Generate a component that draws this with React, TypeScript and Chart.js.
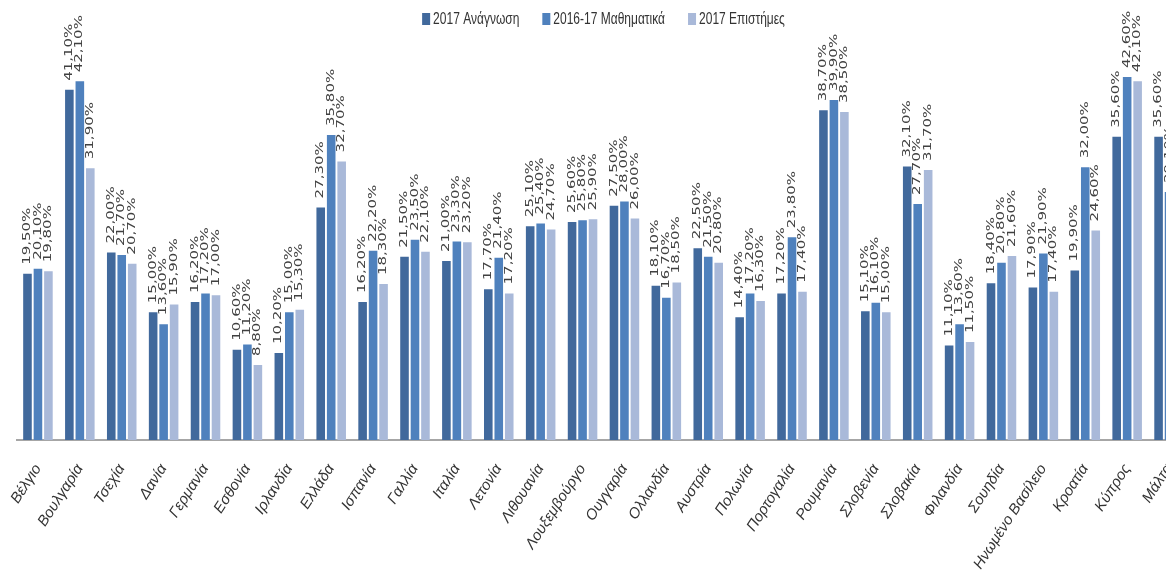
import React, { useEffect, useRef } from 'react';
import { Chart, registerables } from 'chart.js';

Chart.register(...registerables);

const categories = [
  'Βέλγιο', 'Βουλγαρία', 'Τσεχία', 'Δανία', 'Γερμανία', 'Εσθονία', 'Ιρλανδία',
  'Ελλάδα', 'Ισπανία', 'Γαλλία', 'Ιταλία', 'Λετονία', 'Λιθουανία', 'Λουξεμβούργο',
  'Ουγγαρία', 'Ολλανδία', 'Αυστρία', 'Πολωνία', 'Πορτογαλία', 'Ρουμανία',
  'Σλοβενία', 'Σλοβακία', 'Φιλανδία', 'Σουηδία', 'Ηνωμένο Βασίλειο', 'Κροατία',
  'Κύπρος', 'Μάλτα',
];

const reading = [
  19.5, 41.1, 22.0, 15.0, 16.2, 10.6, 10.2, 27.3, 16.2, 21.5, 21.0, 17.7, 25.1, 25.6,
  27.5, 18.1, 22.5, 14.4, 17.2, 38.7, 15.1, 32.1, 11.1, 18.4, 17.9, 19.9, 35.6, 35.6,
];

const maths = [
  20.1, 42.1, 21.7, 13.6, 17.2, 11.2, 15.0, 35.8, 22.2, 23.5, 23.3, 21.4, 25.4, 25.8,
  28.0, 16.7, 21.5, 17.2, 23.8, 39.9, 16.1, 27.7, 13.6, 20.8, 21.9, 32.0, 42.6, 29.1,
];

const science = [
  19.8, 31.9, 20.7, 15.9, 17.0, 8.8, 15.3, 32.7, 18.3, 22.1, 23.2, 17.2, 24.7, 25.9,
  26.0, 18.5, 20.8, 16.3, 17.4, 38.5, 15.0, 31.7, 11.5, 21.6, 17.4, 24.6, 42.1, 32.5,
];

const seriesNames = ['2017 Ανάγνωση', '2016-17 Μαθηματικά', '2017 Επιστήμες'];
const seriesColors = ['#41699C', '#4F81BD', '#A9B9D9'];

const formatValue = (v: number) => v.toFixed(2).replace('.', ',') + '%';

const valueLabelPlugin = {
  id: 'valueLabels',
  afterDatasetsDraw(chart: any) {
    const ctx = chart.ctx;
    ctx.save();
    ctx.font = '10px "DejaVu Sans", Verdana, sans-serif';
    ctx.fillStyle = '#404040';
    ctx.textAlign = 'left';
    ctx.textBaseline = 'middle';
    chart.data.datasets.forEach((ds: any, di: number) => {
      const meta = chart.getDatasetMeta(di);
      meta.data.forEach((bar: any, i: number) => {
        const v = ds.data[i];
        ctx.save();
        ctx.translate(bar.x, bar.y - 9);
        ctx.rotate(-Math.PI / 2);
        ctx.scale(1.5, 1);
        ctx.fillText(formatValue(v), 0, 0);
        ctx.restore();
      });
    });
    ctx.restore();
  },
};

const legendPlugin = {
  id: 'stretchedLegend',
  afterDraw(chart: any) {
    const ctx = chart.ctx;
    const area = chart.chartArea;
    ctx.save();
    ctx.font = '12px "Liberation Sans", Arial, sans-serif';
    const boxW = 8;
    const boxH = 12;
    const gapBox = 3;
    const gapItem = 23;
    const cy = 19;
    const stretch = 1.4;
    const items = chart.data.datasets.map((ds: any) => ({
      text: ds.label,
      color: ds.backgroundColor,
      w: ctx.measureText(ds.label).width,
    }));
    const total =
      items.reduce((s: number, it: any) => s + boxW + gapBox + it.w, 0) +
      gapItem * (items.length - 1);
    let x = (area.left + area.right) / 2 - total / 2;
    items.forEach((it: any) => {
      ctx.fillStyle = it.color;
      ctx.fillRect(x, cy - boxH / 2, boxW, boxH);
      x += boxW + gapBox;
      ctx.save();
      ctx.translate(x, cy);
      ctx.scale(1, stretch);
      ctx.fillStyle = '#333333';
      ctx.textBaseline = 'middle';
      ctx.textAlign = 'left';
      ctx.fillText(it.text, 0, 0);
      ctx.restore();
      x += it.w + gapItem;
    });
    ctx.restore();
  },
};

export default function App() {
  const canvasRef = useRef<HTMLCanvasElement | null>(null);

  useEffect(() => {
    if (!canvasRef.current) return;
    const seriesData = [reading, maths, science];
    const chart = new Chart(canvasRef.current, {
      type: 'bar',
      data: {
        labels: categories,
        datasets: seriesNames.map((name, i) => ({
          label: name,
          data: seriesData[i],
          backgroundColor: seriesColors[i],
          borderWidth: 0,
          categoryPercentage: 0.75,
          barPercentage: 0.82,
        })),
      },
      options: {
        responsive: true,
        maintainAspectRatio: false,
        animation: false,
        layout: { padding: { left: 17, right: 18, top: 14, bottom: 0 } },
        plugins: {
          legend: { display: false },
          tooltip: { enabled: false },
        },
        scales: {
          x: {
            grid: { display: false },
            border: { display: true, color: '#A6A6A6', width: 2 },
            afterFit: (scale: any) => {
              scale.height = 140;
              scale.paddingLeft = 0;
              scale.paddingRight = 0;
            },
            ticks: {
              autoSkip: false,
              minRotation: 57,
              maxRotation: 57,
              padding: 13,
              color: '#333333',
              font: { family: '"Liberation Sans", Arial, sans-serif', size: 15, style: 'italic' },
            },
          },
          y: {
            display: false,
            min: 0,
            max: 50,
          },
        },
      },
      plugins: [valueLabelPlugin, legendPlugin],
    });
    return () => chart.destroy();
  }, []);

  return (
    <div
      style={{
        position: 'absolute',
        left: 0,
        top: 0,
        width: 1166,
        height: 580,
        overflow: 'hidden',
        background: '#ffffff',
      }}
    >
      <div style={{ position: 'relative', width: 1208, height: 580 }}>
        <canvas ref={canvasRef} />
      </div>
    </div>
  );
}
